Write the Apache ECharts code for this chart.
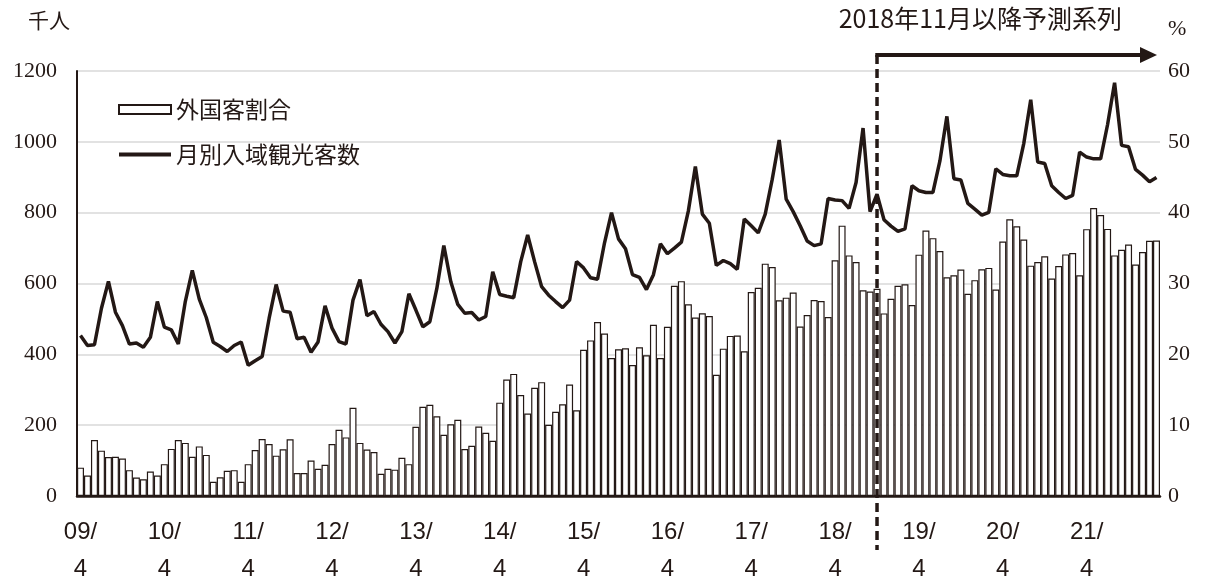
<!DOCTYPE html>
<html><head><meta charset="utf-8">
<script src="https://cdn.jsdelivr.net/npm/echarts@6/dist/echarts.min.js"></script>
<style>html,body{margin:0;padding:0;background:#fff}#c{width:1210px;height:588px}</style>
</head><body><div id="c"></div>
<script>
// Fiscal-year (Apr..Mar) data, first month 2009/04, last 2022/02
const startYear = 2009, startMonth = 4;
const yearTickLabels = ['09/','10/','11/','12/','13/','14/','15/','16/','17/','18/','19/','20/','21/'];
const tickMonthLabel = '4';

// 月別入域観光客数 (千人)
const visitorsFY2009 = [453,425,427,530,606,519,481,429,432,420,448,549];
const visitorsFY2010 = [477,469,429,549,637,556,504,434,422,408,425,435];
const visitorsFY2011 = [369,382,394,502,597,522,519,444,448,406,435,537];
const visitorsFY2012 = [474,436,429,553,611,509,521,485,464,432,464,571];
const visitorsFY2013 = [525,478,492,586,707,605,541,516,518,497,507,633];
const visitorsFY2014 = [569,564,560,661,737,661,591,567,549,532,553,662];
const visitorsFY2015 = [644,616,612,715,800,726,698,625,617,583,625,712];
const visitorsFY2016 = [684,700,717,805,930,796,770,651,665,656,640,782];
const visitorsFY2017 = [763,743,796,894,1005,838,803,763,720,707,712,840];
const visitorsFY2018 = [836,834,812,885,1039,803,852,780,762,747,754,876];
const visitorsFY2019 = [862,857,857,946,1072,896,892,826,810,793,801,924];
const visitorsFY2020 = [908,904,904,995,1119,943,939,876,857,840,849,971];
const visitorsFY2021 = [957,952,952,1049,1167,990,986,922,906,887,899];

// 外国客割合 (%)
const shareFY2009 = [4.0,2.9,7.9,6.4,5.5,5.55,5.3,3.65,2.6,2.35,3.45,2.9];
const shareFY2010 = [4.5,6.65,7.9,7.5,5.55,7.0,5.8,2.0,2.65,3.55,3.65,2.0];
const shareFY2011 = [4.5,6.5,8.05,7.35,5.7,6.6,8.0,3.25,3.25,5.0,3.85,4.4];
const shareFY2012 = [7.35,9.35,8.27,12.45,7.5,6.57,6.2,3.13,3.85,3.72,5.4,4.5];
const shareFY2013 = [9.77,12.6,12.87,11.26,8.65,10.12,10.75,6.63,7.1,9.8,8.93,7.8];
const shareFY2014 = [13.18,16.45,17.24,14.25,11.64,15.28,16.07,10.05,11.9,12.94,15.75,12.1];
const shareFY2015 = [20.65,21.97,24.55,22.95,19.49,20.7,20.85,18.48,21.0,19.86,24.16,19.49];
const shareFY2016 = [23.88,29.68,30.33,27.06,25.19,25.8,25.42,17.1,20.8,22.6,22.66,20.42];
const shareFY2017 = [28.8,29.4,32.8,32.34,27.62,28.0,28.74,23.93,25.56,27.66,27.52,25.28];
const shareFY2018 = [33.27,38.17,33.97,33.04,29.04,28.88,29.25,25.78,27.85,29.68,29.9,26.96];
const shareFY2019 = [34.07,37.48,36.4,34.58,30.89,31.17,31.96,28.55,30.47,32.0,32.2,29.16];
const shareFY2020 = [35.94,39.07,38.09,36.22,32.52,33.04,33.83,30.7,32.48,34.11,34.3,31.17];
const shareFY2021 = [37.67,40.66,39.68,37.71,33.97,34.77,35.5,32.67,34.44,36.03,36.07];

const visitors = [].concat(visitorsFY2009,visitorsFY2010,visitorsFY2011,visitorsFY2012,visitorsFY2013,
  visitorsFY2014,visitorsFY2015,visitorsFY2016,visitorsFY2017,visitorsFY2018,visitorsFY2019,visitorsFY2020,visitorsFY2021);
const shares = [].concat(shareFY2009,shareFY2010,shareFY2011,shareFY2012,shareFY2013,
  shareFY2014,shareFY2015,shareFY2016,shareFY2017,shareFY2018,shareFY2019,shareFY2020,shareFY2021);

const categories = [];
for (let i = 0; i < visitors.length; i++) {
  const m0 = startMonth - 1 + i;
  const y = startYear + Math.floor(m0 / 12);
  const m = (m0 % 12) + 1;
  categories.push(y + '/' + (m < 10 ? '0' + m : m));
}
const dividerCategory = '2018/10';
const seriesNames = ['外国客割合', '月別入域観光客数'];
const axisNames = ['千人', '%'];
const forecastNote = '2018年11月以降予測系列';

const ink = '#231815';
const chart = echarts.init(document.getElementById('c'), null, {renderer: 'canvas'});
chart.setOption({
  animation: false,
  backgroundColor: '#fff',
  grid: {left: 77, right: 50, top: 71, bottom: 89},
  legend: {
    orient: 'vertical', left: 113, top: 93, itemWidth: 52, itemHeight: 9, itemGap: 22,
    textStyle: {fontFamily: 'Noto Sans CJK JP', fontSize: 23, color: ink},
    data: [
      {name: seriesNames[0], icon: 'rect'},
      {name: seriesNames[1], icon: 'path://M0,0H52V4H0Z', itemStyle: {color: ink, borderWidth: 0}}
    ]
  },
  xAxis: {
    type: 'category', data: categories, boundaryGap: true,
    axisLine: {lineStyle: {color: ink, width: 2.5}},
    axisTick: {show: false},
    splitLine: {show: false},
    axisLabel: {
      interval: (i) => i % 12 === 0,
      formatter: (v, i) => yearTickLabels[Math.floor(i / 12)] + '\n' + tickMonthLabel,
      fontFamily: 'Liberation Sans', fontSize: 24, color: ink, lineHeight: 37, margin: 18
    }
  },
  yAxis: [
    {
      type: 'value', min: 0, max: 1200, interval: 200,
      axisLine: {show: true, lineStyle: {color: ink, width: 2}},
      axisTick: {show: false},
      splitLine: {lineStyle: {color: '#d9d9d9', width: 1.5}},
      axisLabel: {fontFamily: 'Liberation Serif', fontSize: 22, color: ink, margin: 20,
        formatter: (v) => String(v)}
    },
    {
      type: 'value', min: 0, max: 60, interval: 10,
      axisLine: {show: false}, axisTick: {show: false}, splitLine: {show: false},
      axisLabel: {fontFamily: 'Liberation Serif', fontSize: 22, color: ink, margin: 8,
        formatter: (v) => String(v)}
    }
  ],
  series: [
    {
      name: seriesNames[0], type: 'bar', yAxisIndex: 1, data: shares,
      barCategoryGap: '0%', z: 2,
      itemStyle: {color: '#fff', borderColor: ink, borderWidth: 1.2}
    },
    {
      name: seriesNames[1], type: 'line', yAxisIndex: 0, data: visitors,
      symbol: 'none', showSymbol: false, z: 3,
      lineStyle: {color: ink, width: 3.5},
      itemStyle: {color: ink}
    }
  ]
});

const dx = chart.convertToPixel({xAxisIndex: 0}, dividerCategory);
chart.setOption({
  graphic: [
    {type: 'text', left: 28, top: 10, style: {text: axisNames[0], font: '21px "Noto Sans CJK JP"', fill: ink}},
    {type: 'text', left: 1168, top: 18, style: {text: axisNames[1], font: '22px "Liberation Serif"', fill: ink}},
    {type: 'text', right: 88, top: 6, style: {text: forecastNote, font: '25px "Noto Sans CJK JP"', fill: ink}},
    {type: 'line', z: 10, shape: {x1: dx, y1: 55, x2: dx, y2: 550},
      style: {stroke: ink, lineWidth: 3.5, lineDash: [9, 5]}},
    {type: 'line', z: 10, shape: {x1: dx - 1.75, y1: 55, x2: 1142, y2: 55},
      style: {stroke: ink, lineWidth: 4}},
    {type: 'polygon', z: 10, shape: {points: [[1140, 47], [1157, 55], [1140, 63]]},
      style: {fill: ink}}
  ]
});
</script></body></html>
